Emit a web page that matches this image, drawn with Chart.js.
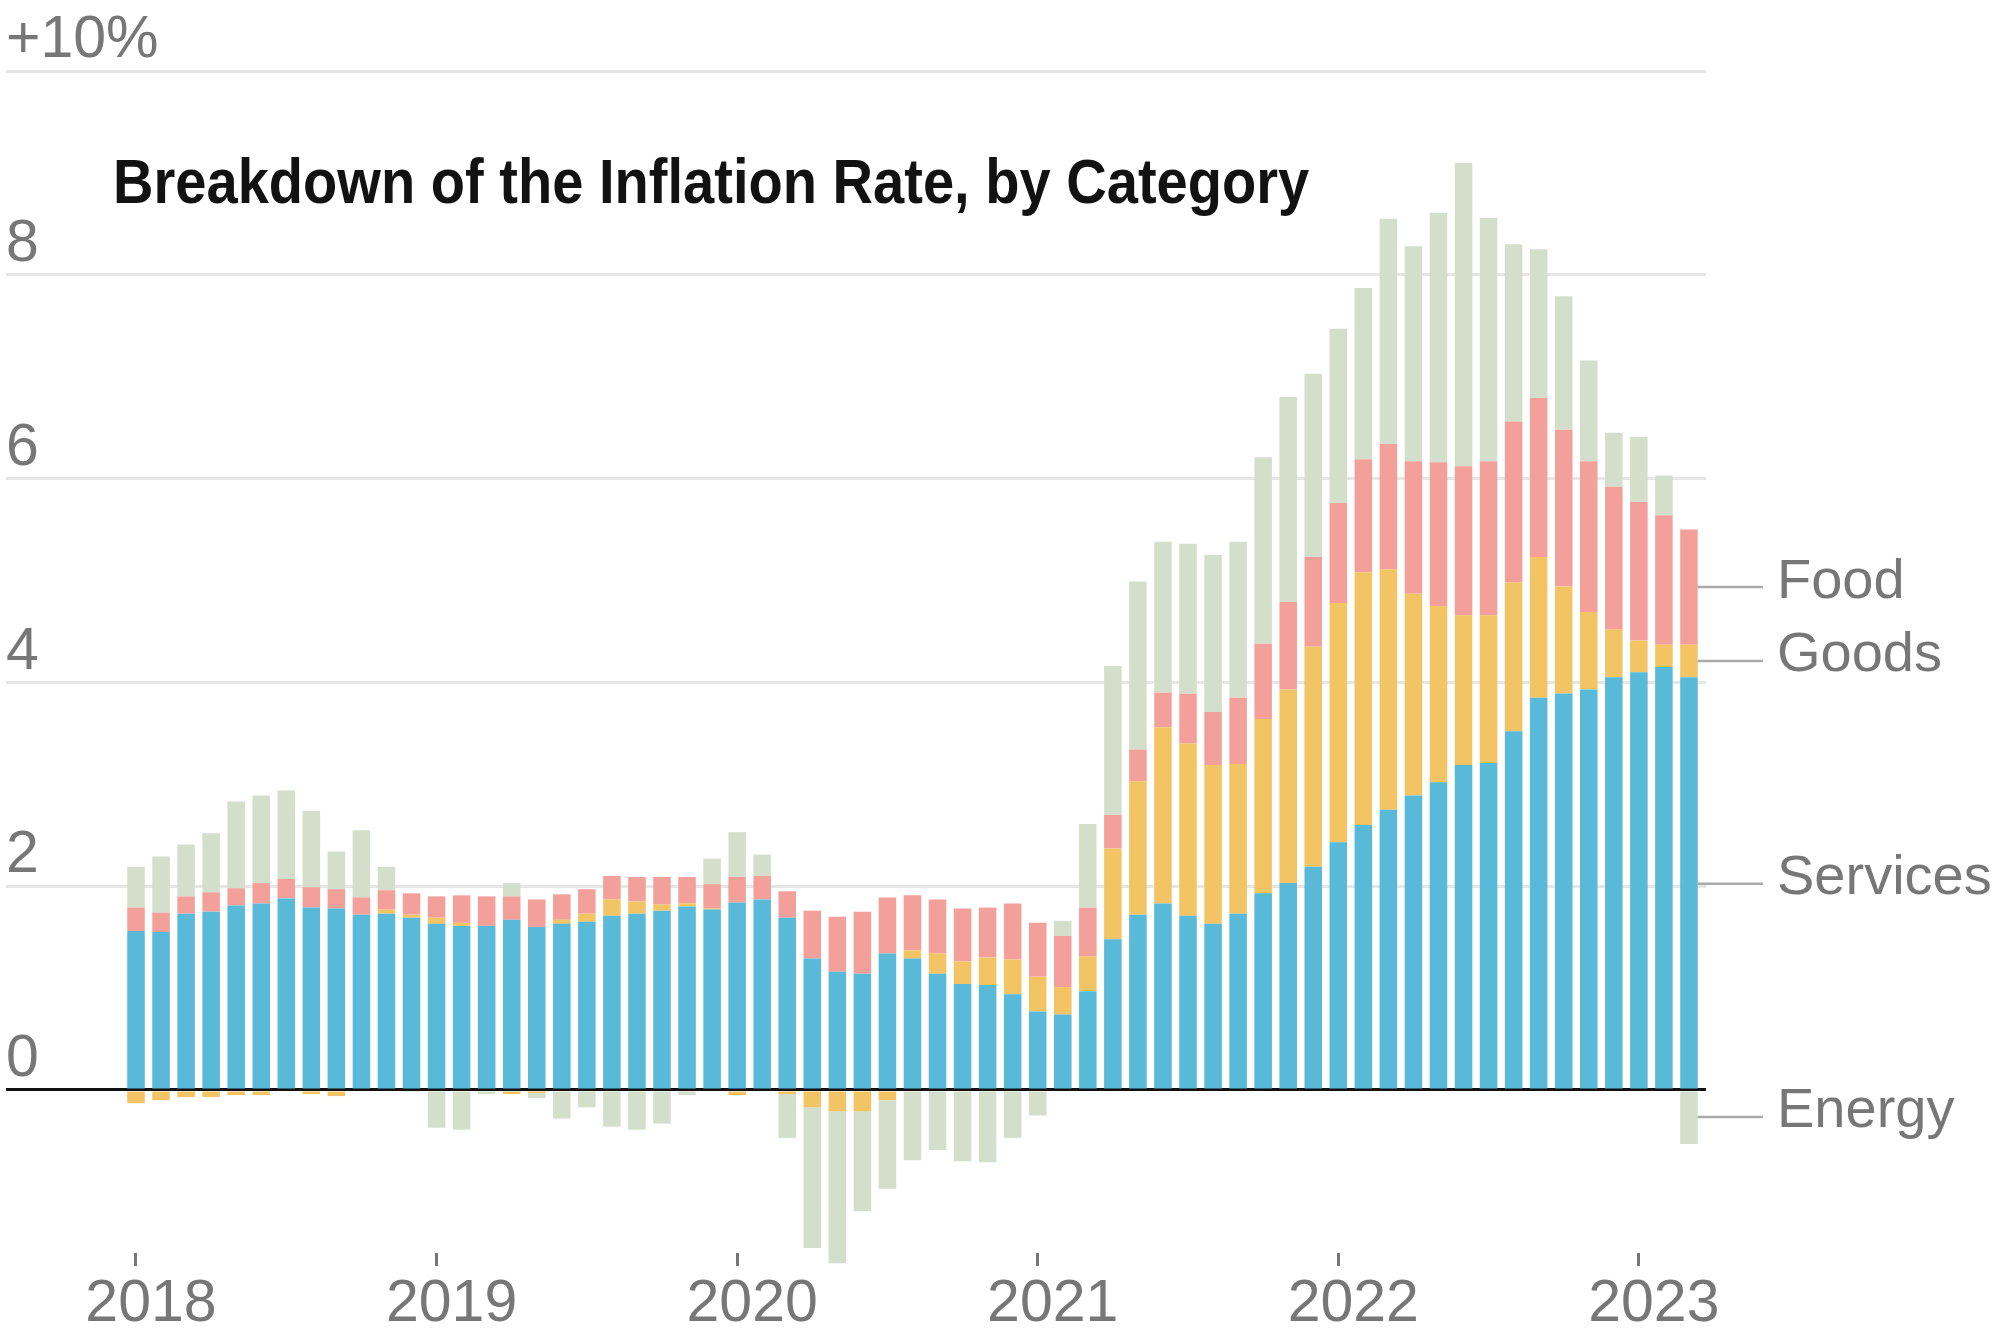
<!DOCTYPE html>
<html>
<head>
<meta charset="utf-8">
<title>Breakdown of the Inflation Rate, by Category</title>
<script src="https://cdn.jsdelivr.net/npm/chart.js@4.4.1/dist/chart.umd.min.js"></script>
<style>
  html, body { margin: 0; padding: 0; background: #fff; }
  #chart { display: block; }
</style>
</head>
<body>
<canvas id="chart" width="2000" height="1333"></canvas>
<script>
// monthly contributions to the year-over-year CPI change, Jan 2018 - Mar 2023
const months = [
  "2018-01","2018-02","2018-03","2018-04","2018-05","2018-06","2018-07","2018-08","2018-09","2018-10","2018-11","2018-12",
  "2019-01","2019-02","2019-03","2019-04","2019-05","2019-06","2019-07","2019-08","2019-09","2019-10","2019-11","2019-12",
  "2020-01","2020-02","2020-03","2020-04","2020-05","2020-06","2020-07","2020-08","2020-09","2020-10","2020-11","2020-12",
  "2021-01","2021-02","2021-03","2021-04","2021-05","2021-06","2021-07","2021-08","2021-09","2021-10","2021-11","2021-12",
  "2022-01","2022-02","2022-03","2022-04","2022-05","2022-06","2022-07","2022-08","2022-09","2022-10","2022-11","2022-12",
  "2023-01","2023-02","2023-03"
];

const services = [
  1.56, 1.55, 1.73, 1.75, 1.81, 1.83, 1.88, 1.79, 1.78, 1.72, 1.73, 1.69,
  1.63, 1.61, 1.61, 1.67, 1.60, 1.63, 1.65, 1.71, 1.73, 1.76, 1.80, 1.77,
  1.84, 1.87, 1.69, 1.29, 1.16, 1.14, 1.34, 1.29, 1.14, 1.04, 1.03, 0.94,
  0.77, 0.74, 0.97, 1.48, 1.72, 1.83, 1.71, 1.63, 1.73, 1.93, 2.03, 2.19,
  2.43, 2.60, 2.75, 2.89, 3.02, 3.19, 3.21, 3.52, 3.85, 3.89, 3.93, 4.05,
  4.10, 4.15, 4.05
];

const goods = [
  -0.13, -0.10, -0.07, -0.07, -0.05, -0.05, 0.00, -0.04, -0.06, 0.00, 0.04, 0.03,
  0.06, 0.03, 0.00, -0.04, -0.03, 0.04, 0.08, 0.16, 0.12, 0.06, 0.03, 0.01,
  -0.05, 0.00, -0.04, -0.17, -0.21, -0.21, -0.10, 0.08, 0.20, 0.22, 0.27, 0.34,
  0.34, 0.27, 0.34, 0.89, 1.31, 1.73, 1.69, 1.56, 1.47, 1.71, 1.90, 2.16,
  2.35, 2.48, 2.36, 1.98, 1.73, 1.47, 1.45, 1.46, 1.38, 1.05, 0.76, 0.47,
  0.31, 0.22, 0.32
];

const food = [
  0.23, 0.19, 0.17, 0.19, 0.17, 0.20, 0.19, 0.20, 0.19, 0.17, 0.19, 0.21,
  0.21, 0.27, 0.29, 0.23, 0.27, 0.25, 0.24, 0.23, 0.24, 0.27, 0.26, 0.24,
  0.25, 0.23, 0.26, 0.47, 0.54, 0.61, 0.55, 0.54, 0.53, 0.52, 0.49, 0.55,
  0.53, 0.50, 0.48, 0.33, 0.31, 0.34, 0.49, 0.52, 0.65, 0.74, 0.86, 0.88,
  0.98, 1.11, 1.23, 1.30, 1.41, 1.46, 1.51, 1.58, 1.56, 1.54, 1.48, 1.40,
  1.36, 1.27, 1.13
];

const energy = [
  0.40, 0.55, 0.51, 0.58, 0.85, 0.86, 0.87, 0.75, 0.37, 0.66, 0.23, -0.02,
  -0.37, -0.39, -0.04, 0.13, -0.05, -0.28, -0.17, -0.36, -0.39, -0.33, -0.05, 0.25,
  0.44, 0.21, -0.43, -1.38, -1.49, -0.98, -0.87, -0.69, -0.59, -0.70, -0.71, -0.47,
  -0.25, 0.15, 0.82, 1.46, 1.65, 1.48, 1.47, 1.54, 1.53, 1.83, 2.01, 1.80,
  1.71, 1.68, 2.21, 2.11, 2.45, 2.98, 2.39, 1.74, 1.46, 1.31, 0.99, 0.53,
  0.64, 0.39, -0.53
];

const yTicks = [0, 2, 4, 6, 8, 10];
const yTickLabels = ["0", "2", "4", "6", "8", "+10%"];
const xTicks = [0, 12, 24, 36, 48, 60];
const xTickLabels = ["2018", "2019", "2020", "2021", "2022", "2023"];

const seriesNames = ["Services", "Goods", "Food", "Energy"];
const seriesColors = ["#59b9d9", "#f2c464", "#f3a09b", "#d3dfcb"];

const GREY = "#777777";
const TICK_FONT = { family: "'Liberation Sans', Arial, sans-serif", size: 59 };

function toPoints(values) {
  return values.map((v, i) => ({ x: i, y: v }));
}

const datasets = [services, goods, food, energy].map((values, k) => ({
  label: seriesNames[k],
  data: toPoints(values),
  backgroundColor: seriesColors[k],
  borderWidth: 0,
  categoryPercentage: 1,
  barPercentage: 0.7,
  clip: false
}));

// title and the direct labels at the right end of the bars
const annotations = {
  id: "annotations",
  afterDraw(chart) {
    const { ctx } = chart;
    const y = chart.scales.y;
    const last = months.length - 1;
    const bar = chart.getDatasetMeta(0).data[last];
    const barRight = bar.x + bar.width / 2;

    ctx.save();
    // no condensed face installed: squeeze the bold sans horizontally
    ctx.save();
    ctx.translate(113, 203);
    ctx.scale(0.89, 1);
    ctx.fillStyle = "#121212";
    ctx.font = "bold 63px 'Liberation Sans', Arial, sans-serif";
    ctx.textAlign = "left";
    ctx.textBaseline = "alphabetic";
    ctx.fillText("Breakdown of the Inflation Rate, by Category", 0, 0);
    ctx.restore();

    const s = services[last], g = goods[last], f = food[last], e = energy[last];
    const gPos = Math.max(g, 0), gNeg = Math.min(g, 0);
    const mids = [
      s / 2,
      s + gPos / 2,
      s + gPos + f / 2,
      e < 0 ? gNeg + e / 2 : s + gPos + f + e / 2
    ];
    const order = [2, 1, 0, 3];

    ctx.strokeStyle = "#aaaaaa";
    ctx.lineWidth = 2.5;
    ctx.fillStyle = GREY;
    ctx.font = "56px 'Liberation Sans', Arial, sans-serif";
    ctx.textBaseline = "middle";
    order.forEach(k => {
      const py = y.getPixelForValue(mids[k]);
      ctx.beginPath();
      ctx.moveTo(barRight, py);
      ctx.lineTo(1763, py);
      ctx.stroke();
      ctx.fillText(seriesNames[k], 1777, py - 5);
    });
    ctx.restore();
  }
};

new Chart(document.getElementById("chart"), {
  type: "bar",
  data: { datasets },
  options: {
    responsive: false,
    animation: false,
    layout: { padding: { top: 71, left: 6, right: 294, bottom: 0 } },
    plugins: {
      legend: { display: false },
      tooltip: { enabled: false },
      title: { display: false }
    },
    scales: {
      x: {
        type: "linear",
        stacked: true,
        offset: false,
        min: -5.19,
        max: 62.68,
        afterBuildTicks: scale => { scale.ticks = xTicks.map(v => ({ value: v })); },
        afterFit: scale => { scale.height = 80; },
        grid: {
          display: true,
          offset: false,
          drawOnChartArea: false,
          tickLength: 13,
          tickColor: GREY,
          tickWidth: 3
        },
        border: { display: false },
        ticks: {
          color: GREY,
          font: TICK_FONT,
          padding: 3,
          labelOffset: 15,
          maxRotation: 0,
          autoSkip: false,
          callback: v => xTickLabels[xTicks.indexOf(v)]
        }
      },
      y: {
        stacked: true,
        min: -1.6,
        max: 10,
        position: "left",
        afterBuildTicks: scale => { scale.ticks = yTicks.map(v => ({ value: v })); },
        afterFit: scale => { scale.width = 0; },
        grid: {
          color: c => (c.tick && c.tick.value === 0 ? "rgba(0,0,0,0)" : "#e6e6e6"),
          lineWidth: 3,
          drawTicks: false
        },
        border: { display: false },
        ticks: {
          mirror: true,
          padding: 0,
          labelOffset: -30,
          color: GREY,
          font: TICK_FONT,
          callback: v => yTickLabels[yTicks.indexOf(v)]
        }
      },
      zero: {
        type: "linear",
        min: -1.6,
        max: 10,
        position: "left",
        z: 1,
        afterBuildTicks: scale => { scale.ticks = [{ value: 0 }]; },
        afterFit: scale => { scale.width = 0; },
        grid: { color: "#111111", lineWidth: 3, drawTicks: false },
        border: { display: false },
        ticks: { display: false }
      }
    }
  },
  plugins: [annotations]
});
</script>
</body>
</html>
